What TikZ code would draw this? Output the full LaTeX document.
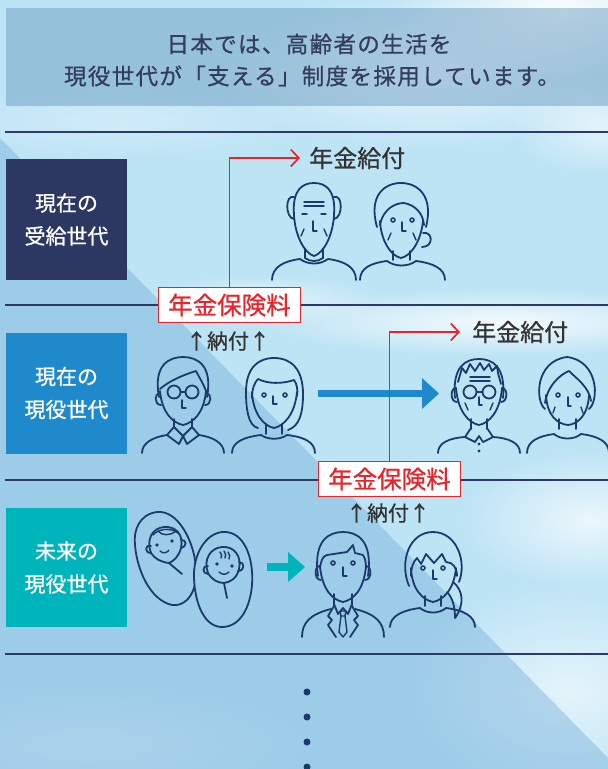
\documentclass[tikz,border=0pt]{standalone}
\usepackage{fontspec}
\usetikzlibrary{arrows.meta,fadings}
\newfontfamily\jp[FakeBold=0.7]{Noto Sans CJK JP}
\newfontfamily\jpwide[LetterSpace=6,FakeBold=0.8]{Noto Sans CJK JP}
\definecolor{skybase}{HTML}{BDE4F5}
\definecolor{lowshade}{HTML}{6FAAD8}
\definecolor{headfill}{HTML}{6E9FC2}
\definecolor{ink}{HTML}{1B3A6B}
\definecolor{rulecol}{HTML}{2E3A64}
\definecolor{gennavy}{HTML}{2D3862}
\definecolor{genblue}{HTML}{1F8ACB}
\definecolor{genteal}{HTML}{00B4BC}
\definecolor{feered}{HTML}{E8242B}
\definecolor{labeltxt}{HTML}{333333}
\definecolor{headtxt}{HTML}{333D5C}
\tikzfading[name=softcloud, inner color=transparent!0, outer color=transparent!100]
\begin{document}
\begin{tikzpicture}[x=1pt,y=-1pt,
  fig/.style={draw=ink, line width=1.8pt, line cap=round, line join=round},
  finestroke/.style={draw=ink, line width=1.4pt, line cap=round, line join=round},
  eyedot/.style={draw=ink, line width=1.5pt},
  genbox/.style={minimum width=121pt, minimum height=121pt, inner sep=0pt, text=white, align=center, font=\jp\fontsize{21}{33}\selectfont},
  feebox/.style={draw=feered, line width=1.8pt, fill=white, text=feered, minimum width=142pt, minimum height=35pt, inner sep=0pt, font=\jp\fontsize{24.5}{27}\selectfont},
  paylbl/.style={text=labeltxt, anchor=west, inner sep=0pt, font=\jp\fontsize{24}{27}\selectfont},
  duelbl/.style={text=labeltxt, inner sep=0pt, font=\jp\fontsize{21}{24}\selectfont},
  feeline/.style={draw=feered, line width=1.7pt, -{Straight Barb[length=8pt,width=17pt,line width=1.7pt]}},
  sepline/.style={draw=rulecol, line width=1.4pt},
  cloud/.style={fill=white, path fading=softcloud, fit fading=true},
  headtext/.style={text=headtxt, inner sep=0pt, font=\jpwide\fontsize{22.5}{26}\selectfont}
]
\useasboundingbox (0,0) rectangle (608,769);
\clip (0,0) rectangle (608,769);

% ---- sky and clouds ----
\fill[skybase] (0,0) rectangle (608,769);
\fill[cloud, opacity=0.95] (560,10) ellipse (170 and 70);
\fill[cloud, opacity=0.7] (430,70) ellipse (220 and 80);
\fill[cloud, opacity=0.6] (600,125) ellipse (90 and 50);
\fill[cloud, opacity=0.85] (500,322) ellipse (240 and 34);
\fill[cloud, opacity=0.6] (260,300) ellipse (120 and 26);
\fill[cloud, opacity=0.7] (590,520) ellipse (130 and 70);
\fill[cloud, opacity=0.6] (570,690) ellipse (160 and 110);
\fill[cloud, opacity=0.35] (90,745) ellipse (220 and 60);
\fill[cloud, opacity=0.3] (120,120) ellipse (200 and 40);

% ---- darker lower-left band ----
\fill[lowshade, opacity=0.4] (0,138) -- (608,758) -- (608,769) -- (0,769) -- cycle;

% ---- heading ----
\fill[headfill, opacity=0.5] (6,8) rectangle (608,106);
\node[headtext] (head1) at (309,44) {日本では、高齢者の生活を};
\node[headtext] (head2) at (312,76) {現役世代が「支える」制度を採用しています。};

% ---- row separators ----
\draw[sepline] (5,132) -- (608,132);
\draw[sepline] (5,305) -- (608,305);
\draw[sepline] (5,480) -- (608,480);
\draw[sepline] (5,654) -- (608,654);

% ---- generation labels ----
\node[genbox, fill=gennavy] (gen1) at (66.5,219.5) {現在の\\受給世代};
\node[genbox, fill=genblue] (gen2) at (66.5,393) {現在の\\現役世代};
\node[genbox, fill=genteal, minimum height=119pt] (gen3) at (66.5,567.5) {未来の\\現役世代};

% ================= row 1 : retirees =================
% bald old man
\begin{scope}[shift={(314,183)}]
  \draw[fig] (-20,32) .. controls (-22,6) and (-11,0) .. (0,0) .. controls (11,0) and (22,6) .. (20,32);
  \draw[fig] (-20,14) .. controls (-29,11) and (-29,35) .. (-20,36);
  \draw[fig] (20,14) .. controls (29,11) and (29,35) .. (20,36);
  \draw[fig] (-20,32) .. controls (-19,52) and (-10,70) .. (0,73) .. controls (10,70) and (19,52) .. (20,32);
  \draw[finestroke] (-10,19) -- (10,19) (-10,23) -- (10,23);
  \draw[finestroke] (-12,31) -- (-7,31) (7,31) -- (12,31);
  \draw[finestroke] (-1,38) -- (-1,48) -- (3,48);
  \draw[finestroke] (-10,46) -- (-13,53) (10,46) -- (13,53);
  \draw[fig] (-9,66) -- (-9,75) (9,66) -- (9,75);
  \draw[fig] (-9,75) .. controls (-4,79) and (4,79) .. (9,75);
  \draw[fig] (-42,97) .. controls (-42,84) and (-30,78) .. (-14,76) .. controls (-6,82) and (6,82) .. (14,76) .. controls (30,78) and (42,84) .. (42,97);
\end{scope}
% old woman with bun
\begin{scope}[shift={(401,183)}]
  \draw[fig] (-24,44) .. controls (-33,12) and (-16,0) .. (0,0) .. controls (16,0) and (33,12) .. (25,44);
  \draw[fig] (-21,42) .. controls (-18,26) and (-6,20) .. (3,20) .. controls (14,22) and (22,30) .. (23,42);
  \draw[fig] (-21,38) .. controls (-20,58) and (-10,73) .. (0,75) .. controls (10,73) and (20,58) .. (22,38);
  \draw[fig] (22,50) .. controls (32,48) and (33,64) .. (21,64);
  \draw[eyedot] (-8,37) circle (2) (11,37) circle (2);
  \draw[finestroke] (1,39) -- (1,48) -- (5,48);
  \draw[finestroke] (-10,50) -- (-13,57) (12,50) -- (15,57);
  \draw[fig] (-8,68) -- (-8,77) (9,68) -- (9,77);
  \draw[fig] (-41,97) .. controls (-41,85) and (-30,80) .. (-14,78) .. controls (-6,84) and (7,84) .. (15,78) .. controls (31,80) and (44,85) .. (44,97);
\end{scope}

% ================= row 2 : working generation =================
% man with glasses
\begin{scope}[shift={(183,357)}]
  \draw[fig] (-24,40) .. controls (-30,8) and (-14,0) .. (0,0) .. controls (14,0) and (30,8) .. (24,40);
  \draw[fig] (-23,32) .. controls (-14,24) and (0,18) .. (13,14) .. controls (16,20) and (20,26) .. (23,34);
  \draw[fig] (-23,36) .. controls (-29,36) and (-29,48) .. (-22,48);
  \draw[fig] (23,36) .. controls (29,36) and (29,48) .. (22,48);
  \draw[fig] (-23,34) .. controls (-21,56) and (-10,66) .. (0,68) .. controls (10,66) and (21,56) .. (23,34);
  \draw[fig] (-9,35) circle (6.5) (9,35) circle (6.5) (-2.5,35) -- (2.5,35);
  \draw[finestroke] (-1,43) -- (-1,51) -- (3,51);
  \draw[fig] (-9,62) -- (-9,71) (9,62) -- (9,71);
  \draw[fig] (-9,70) -- (-16,78) -- (-4,87) -- (0,79) -- (4,87) -- (16,78) -- (9,70);
  \draw[fig] (-9,70) -- (0,79) -- (9,70);
  \draw[fig] (-41,96) .. controls (-41,86) and (-30,80) .. (-16,78);
  \draw[fig] (16,78) .. controls (30,80) and (41,86) .. (41,96);
\end{scope}
% woman with long hair
\begin{scope}[shift={(274,358)}]
  \draw[fig] (-16,70) .. controls (-26,68) and (-28,50) .. (-28,34) .. controls (-28,10) and (-16,0) .. (0,0) .. controls (18,0) and (29,12) .. (29,36) .. controls (29,54) and (26,68) .. (14,72);
  \draw[fig] (-22,40) .. controls (-22,30) and (-19,24) .. (-16,21) .. controls (-6,26) and (8,26) .. (20,22) .. controls (23,26) and (24,32) .. (23,38);
  \draw[fig] (-22,34) .. controls (-21,56) and (-10,68) .. (0,70) .. controls (10,68) and (21,56) .. (23,34);
  \draw[eyedot] (-10,37) circle (2) (11,37) circle (2);
  \draw[finestroke] (-1,38) -- (-1,46) -- (3,46);
  \draw[fig] (-8,66) -- (-8,76) (8,66) -- (8,76);
  \draw[fig] (-42,95) .. controls (-42,84) and (-30,79) .. (-13,77) .. controls (-6,82) and (6,82) .. (13,77) .. controls (30,79) and (41,84) .. (41,95);
\end{scope}

% ---- hand-over arrow ----
\fill[genblue] (318,390) rectangle (423,397);
\fill[genblue] (422,378) -- (439,393.5) -- (422,409) -- cycle;

% old man with glasses
\begin{scope}[shift={(479,358)}]
  \draw[fig] (-24,40) .. controls (-27,8) and (-13,1) .. (0,1) .. controls (13,1) and (27,8) .. (24,40);
  \draw[fig] (-21,24) -- (-17,10) -- (-13,15) -- (-9,6) -- (-4,13) -- (1,5) -- (5,12) -- (10,6) -- (13,13) -- (18,8) -- (19,15) -- (22,26);
  \draw[finestroke] (-9,19) -- (11,19) (-9,23) -- (11,23);
  \draw[fig] (-23,30) .. controls (-29,30) and (-29,44) .. (-22,44);
  \draw[fig] (23,30) .. controls (29,30) and (29,44) .. (22,44);
  \draw[fig] (-23,30) .. controls (-21,54) and (-10,65) .. (0,67) .. controls (10,65) and (21,54) .. (23,30);
  \draw[fig] (-9,34) circle (6.5) (10,34) circle (6.5) (-2.5,34) -- (3.5,34);
  \draw[finestroke] (0,39) -- (0,47) -- (3,47);
  \draw[finestroke] (-14,45) -- (-11,52) (14,45) -- (11,52);
  \draw[fig] (-8,61) -- (-8,71) (8,61) -- (8,71);
  \draw[fig] (-8,70) -- (-14,79) -- (-4,84) -- (0,78) -- (4,84) -- (14,79) -- (8,70);
  \fill[ink] (0,86) circle (1.6) (0,93) circle (1.6);
  \draw[fig] (-41,95) .. controls (-41,85) and (-30,80) .. (-14,79);
  \draw[fig] (14,79) .. controls (30,80) and (41,85) .. (41,95);
\end{scope}
% old woman
\begin{scope}[shift={(567,357)}]
  \draw[fig] (-22,52) .. controls (-32,44) and (-32,4) .. (0,0) .. controls (32,4) and (32,44) .. (22,52);
  \draw[fig] (-22,46) .. controls (-20,30) and (-8,18) .. (2,14) .. controls (10,22) and (22,30) .. (24,44);
  \draw[fig] (-21,38) .. controls (-20,58) and (-10,67) .. (1,68) .. controls (11,67) and (21,58) .. (22,38);
  \draw[eyedot] (-9,38) circle (2) (11,38) circle (2);
  \draw[finestroke] (1,40) -- (1,49) -- (4,49);
  \draw[finestroke] (-12,50) -- (-14,56) (14,50) -- (16,56);
  \draw[fig] (-8,62) -- (-8,72) (9,62) -- (9,72);
  \draw[fig] (-40,96) .. controls (-40,84) and (-28,79) .. (-13,77) .. controls (-6,83) and (7,83) .. (14,77) .. controls (30,79) and (42,84) .. (42,96);
\end{scope}

% ================= row 3 : future generation =================
% babies in blankets: the first blanket is hidden behind the second
\begin{scope}[even odd rule]
  \clip (0,0) rectangle (608,769)
    (222,532) .. controls (205,534) and (193,555) .. (194,578) .. controls (195,605) and (205,627) .. (222,627) .. controls (240,627) and (250,608) .. (252,585) .. controls (254,560) and (245,530) .. (222,532) -- cycle;
  \draw[fig] (157,512) .. controls (140,514) and (133,530) .. (135,545) .. controls (137,570) and (150,600) .. (172,605) .. controls (190,607) and (200,585) .. (195,560) .. controls (192,540) and (178,510) .. (157,512) -- cycle;
\end{scope}
\draw[fig] (222,532) .. controls (205,534) and (193,555) .. (194,578) .. controls (195,605) and (205,627) .. (222,627) .. controls (240,627) and (250,608) .. (252,585) .. controls (254,560) and (245,530) .. (222,532) -- cycle;
% first baby face
\draw[fig] (151,553) .. controls (146,540) and (152,528) .. (164,527) .. controls (176,526) and (184,535) .. (181,548) .. controls (179,556) and (174,561) .. (169,563);
\draw[fig] (151,553) .. controls (155,559) and (161,562) .. (169,563) -- (182,574);
\draw[fig] (151,546) .. controls (145,544) and (144,553) .. (151,553);
\draw[fig] (181,540) .. controls (187,539) and (187,547) .. (181,548);
\draw[finestroke] (153,535) .. controls (158,529) and (170,527) .. (178,533);
\draw[finestroke] (158,531) .. controls (162,536) and (170,536) .. (176,531);
\fill[ink] (157,545) circle (1.9) (172,541) circle (1.9);
\draw[finestroke] (160,551) .. controls (163,554) and (167,553) .. (169,550);
% second baby face
\draw[fig] (208,573) .. controls (203,560) and (210,548) .. (222,547) .. controls (234,546) and (242,556) .. (239,569) .. controls (237,578) and (231,582) .. (224,583);
\draw[fig] (208,573) .. controls (212,580) and (218,583) .. (224,583) -- (227,598);
\draw[fig] (208,566) .. controls (202,565) and (202,574) .. (208,574);
\draw[fig] (239,562) .. controls (245,562) and (245,571) .. (238,571);
\draw[finestroke] (220,552) .. controls (222,554) and (222,556) .. (221,558);
\draw[finestroke] (224,551) .. controls (226,553) and (226,556) .. (225,558);
\draw[finestroke] (228,552) .. controls (230,554) and (230,557) .. (229,559);
\fill[ink] (217,564) circle (1.9) (232,566) circle (1.9);
\draw[finestroke] (219,572) .. controls (222,575) and (226,575) .. (229,572);

% ---- growing-up arrow ----
\fill[genteal] (267,563) rectangle (289,571);
\fill[genteal] (288,552) -- (305,567) -- (288,582) -- cycle;

% man in a suit
\begin{scope}[shift={(343,532)}]
  \draw[fig] (-25,44) .. controls (-30,8) and (-14,0) .. (0,0) .. controls (14,0) and (30,8) .. (25,44);
  \draw[fig] (-23,36) .. controls (-22,28) and (-20,24) .. (-16,23) -- (4,20) -- (10,13) -- (12,21) -- (20,23) .. controls (22,26) and (23,30) .. (23,36);
  \draw[fig] (-23,34) .. controls (-29,34) and (-29,48) .. (-22,48);
  \draw[fig] (23,34) .. controls (29,34) and (29,48) .. (22,48);
  \draw[fig] (-23,34) .. controls (-21,58) and (-10,68) .. (0,70) .. controls (10,68) and (21,58) .. (23,34);
  \draw[eyedot] (-10,31) circle (2) (10,31) circle (2);
  \draw[finestroke] (0,35) -- (0,44) -- (4,44);
  \draw[fig] (-9,62) -- (-9,74) (9,62) -- (9,74);
  \draw[fig] (-9,72) -- (-5,82) -- (0,76) -- (5,82) -- (9,72);
  \draw[finestroke] (-3,79) -- (3,79) -- (2,84) -- (-2,84) -- cycle;
  \draw[finestroke] (-2,84) -- (-4,100) -- (0,105) -- (4,100) -- (2,84);
  \draw[fig] (-9,74) -- (-15,84) -- (-11,88) -- (-15,93) -- (-7,105);
  \draw[fig] (9,74) -- (15,84) -- (11,88) -- (15,93) -- (7,105);
  \draw[fig] (-41,105) .. controls (-41,90) and (-32,82) .. (-12,77);
  \draw[fig] (12,77) .. controls (32,82) and (41,90) .. (41,105);
\end{scope}
% woman with ponytail
\begin{scope}[shift={(433,532)}]
  \draw[fig] (-24,54) .. controls (-34,30) and (-24,0) .. (0,0) .. controls (24,0) and (34,30) .. (26,50);
  \draw[fig] (-22,44) .. controls (-22,36) and (-20,30) .. (-16,26) -- (-12,32) -- (-7,22) -- (1,31) -- (9,22) -- (13,30) .. controls (20,30) and (24,36) .. (24,44);
  \draw[fig] (-22,36) .. controls (-21,58) and (-10,68) .. (0,70) .. controls (10,68) and (21,58) .. (23,36);
  \draw[fig] (20,50) .. controls (30,58) and (32,72) .. (22,86) .. controls (22,76) and (20,66) .. (14,60);
  \draw[eyedot] (-10,36) circle (2) (10,36) circle (2);
  \draw[finestroke] (0,38) -- (0,47) -- (4,47);
  \draw[fig] (-8,64) -- (-8,74) (8,64) -- (8,74);
  \draw[fig] (-43,95) .. controls (-43,84) and (-30,78) .. (-13,76) .. controls (-6,82) and (6,82) .. (13,76) .. controls (30,78) and (42,84) .. (42,95);
\end{scope}

% ---- contributions and benefits ----
\node[feebox] (fee1) at (229.5,305) {年金保険料};
\node[feebox] (fee2) at (389.5,479) {年金保険料};
\node[paylbl] (benefit1) at (309,158) {年金給付};
\node[paylbl] (benefit2) at (472,332) {年金給付};
\draw[feeline, shorten >=9pt] (fee1.north) |- (benefit1.west);
\draw[feeline, shorten >=12pt] (fee2.north) |- (benefit2.west);
\node[duelbl] (due1) at (228,341) {↑納付↑};
\node[duelbl] (due2) at (388,513) {↑納付↑};

% ---- continuation dots ----
\fill[ink] (307,692) circle (3.5) (307,717) circle (3.5) (307,742) circle (3.5) (307,767) circle (3.5);
\end{tikzpicture}
\end{document}
